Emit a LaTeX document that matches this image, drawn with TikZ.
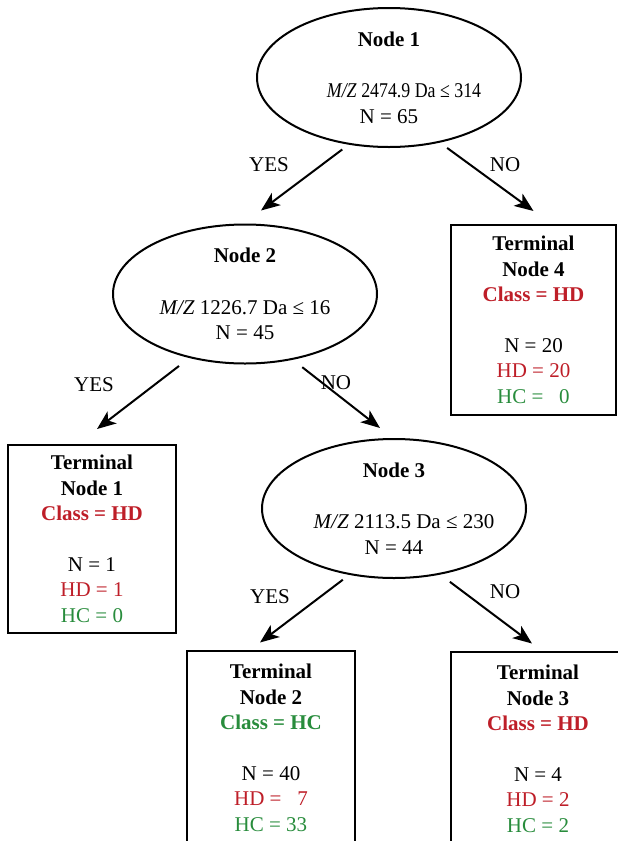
\documentclass[tikz,border=0pt]{standalone}
\usepackage{fontspec}
\setmainfont{Liberation Serif}
\usepackage{xcolor}
\usepackage{graphicx}
\usetikzlibrary{shapes, arrows.meta, positioning}

\definecolor{hdred}{RGB}{190,30,40}
\definecolor{hcgreen}{RGB}{40,140,60}

\begin{document}
\begin{tikzpicture}[
  x=1pt, y=-1pt,
  >={Stealth[length=19pt, width=15pt, inset=5pt]},
  every node/.style={font=\fontsize{21}{25.5}\selectfont},
  split/.style={ellipse, draw, line width=2pt, minimum width=264pt, minimum height=139pt, inner xsep=-30pt, inner ysep=-8pt, align=center},
  leaf/.style={rectangle, draw, line width=2pt, minimum width=168pt, minimum height=189pt, inner sep=0pt, align=center},
  arrowline/.style={->, line width=2pt},
  answer/.style={inner sep=0pt},
]
  \useasboundingbox (0,0) rectangle (618,841);

  % split nodes
  \node[split] (n1) at (389,77.5) {\textbf{Node 1}\\[26pt] \hspace*{30pt}\scalebox{0.85}[1]{\textit{M/Z} 2474.9 Da ≤ 314}\\ N = 65};
  \node[split] (n2) at (245,294) {\textbf{Node 2}\\[26pt] \textit{M/Z} 1226.7 Da ≤ 16\\ N = 45};
  \node[split] (n3) at (394,508.5) {\textbf{Node 3}\\[26pt] \hspace*{20pt}\textit{M/Z} 2113.5 Da ≤ 230\\ N = 44};

  % terminal nodes
  \node[leaf, minimum width=165pt, minimum height=190pt] (t4) at (533.5,320) {\textbf{Terminal}\\ \textbf{Node 4}\\ \textcolor{hdred}{\textbf{Class = HD}}\\[25pt] N = 20\\ \textcolor{hdred}{HD = 20}\\ \textcolor{hcgreen}{HC = \enspace 0}};
  \node[leaf, minimum height=188pt] (t1) at (92,539) {\textbf{Terminal}\\ \textbf{Node 1}\\ \textcolor{hdred}{\textbf{Class = HD}}\\[25pt] N = 1\\ \textcolor{hdred}{HD = 1}\\ \textcolor{hcgreen}{HC = 0}};
  \node[leaf, minimum height=195pt] (t2) at (271,748) {\textbf{Terminal}\\ \textbf{Node 2}\\ \textcolor{hcgreen}{\textbf{Class = HC}}\\[25pt] N = 40\\ \textcolor{hdred}{HD = \enspace 7}\\ \textcolor{hcgreen}{HC = 33}};
  \node[leaf, minimum width=174pt, minimum height=195pt] (t3) at (538,749) {\textbf{Terminal}\\ \textbf{Node 3}\\ \textcolor{hdred}{\textbf{Class = HD}}\\[25pt] N = 4\\ \textcolor{hdred}{HD = 2}\\ \textcolor{hcgreen}{HC = 2}};

  % branches
  \draw[arrowline, shorten <=8pt] (n1.-121) -- ([xshift=16pt, yshift=13pt]n2.north);
  \draw[arrowline, shorten <=9pt] (n1.-52) -- ([yshift=13pt]t4.north);
  \draw[arrowline, shorten <=13pt] (n2.-131) -- ([xshift=5pt, yshift=15pt]t1.north);
  \draw[arrowline, shorten <=12pt] (n2.-54) -- ([xshift=-14pt, yshift=10pt]n3.north);
  \draw[arrowline, shorten <=8pt] (n3.-124) -- ([xshift=-11pt, yshift=7pt]t2.north);
  \draw[arrowline, shorten <=12pt] (n3.-55) -- ([xshift=-6pt, yshift=7pt]t3.north);

  % answers
  \node[answer] (yes1) at (269,165) {YES};
  \node[answer] (no1) at (505,165) {NO};
  \node[answer] (yes2) at (94,385) {YES};
  \node[answer] (no2) at (336,383) {NO};
  \node[answer] (yes3) at (270,597) {YES};
  \node[answer] (no3) at (505,592) {NO};
\end{tikzpicture}
\end{document}
